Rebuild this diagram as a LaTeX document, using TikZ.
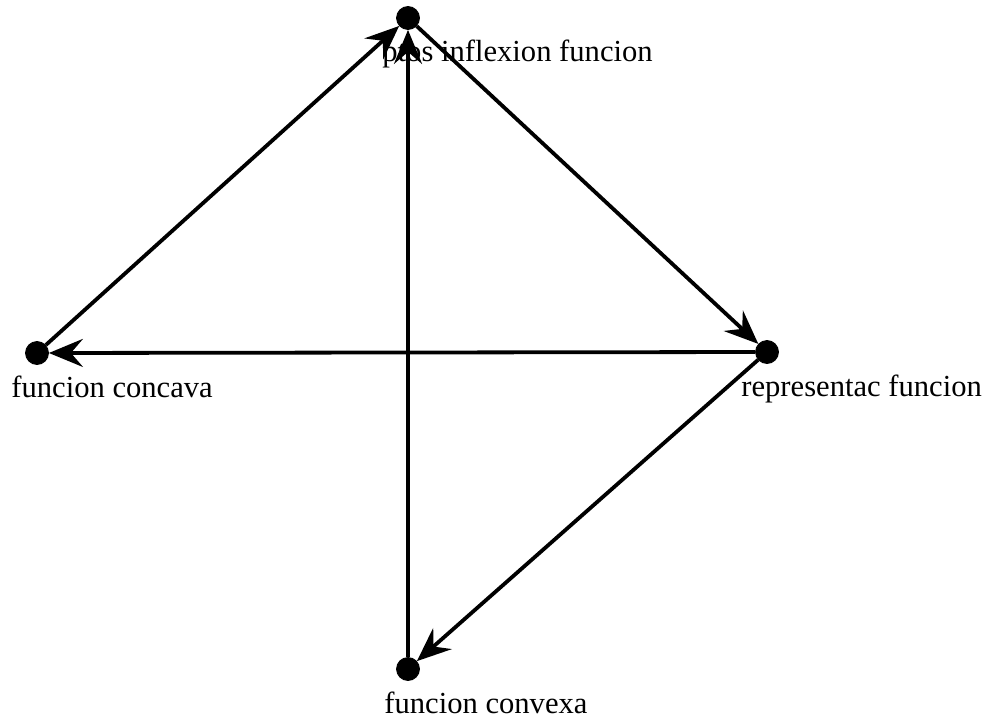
\documentclass[tikz,border=0pt]{standalone}
\usepackage{fontspec}
\setmainfont{Liberation Serif}
\usetikzlibrary{arrows.meta}
\tikzset{
  dot/.style={draw, circle, fill=black, inner sep=0pt, minimum size=11.5pt},
  lbl/.style={anchor=base west, inner sep=0pt, font=\fontsize{15.3}{18}\selectfont},
  edge/.style={draw, line width=1.9pt, -{Stealth[length=17pt,width=14pt,inset=6pt]}}
}
\begin{document}
\begin{tikzpicture}[x=0.5pt,y=-0.5pt]
\useasboundingbox (0,0) rectangle (990,717);

\node[dot] (ptos) at (408,18) {};
\node[dot] (concava) at (37,353) {};
\node[dot] (repr) at (767,352) {};
\node[dot] (convexa) at (408,669) {};

\node[lbl] (ptoslbl) at (382,62) {ptos inflexion funcion};
\node[lbl] (concavalbl) at (11,397) {funcion concava};
\node[lbl] (reprlbl) at (741,396) {representac funcion};
\node[lbl] (convexalbl) at (384,713) {funcion convexa};

\path[edge] (ptos) -- (repr);
\path[edge] (repr) -- (concava);
\path[edge] (repr) -- (convexa);
\path[edge] (convexa) -- (ptos);
\path[edge] (concava) -- (ptos);
\end{tikzpicture}
\end{document}
